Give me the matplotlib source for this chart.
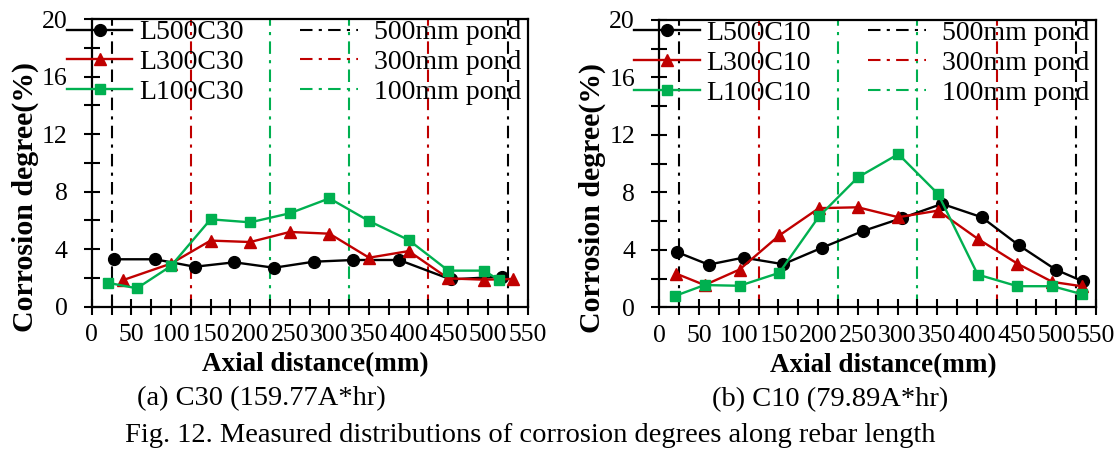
import matplotlib
matplotlib.use("Agg")
import matplotlib.pyplot as plt
from matplotlib.ticker import MultipleLocator

plt.rcParams['font.family'] = ['Liberation Serif', 'DejaVu Serif']

# Measured corrosion degrees (%) along the rebar, panel (a) C30
c30_l500_x = [28, 80, 130, 180, 230, 280, 330, 388, 453, 518]
c30_l500_y = [3.30, 3.30, 2.78, 3.09, 2.71, 3.13, 3.25, 3.25, 1.90, 2.09]
c30_l300_x = [40, 100, 150, 200, 250, 300, 350, 400, 450, 495, 532]
c30_l300_y = [1.86, 3.00, 4.60, 4.50, 5.20, 5.08, 3.41, 3.87, 1.97, 1.88, 1.93]
c30_l100_x = [20, 57, 100, 150, 200, 250, 300, 350, 400, 450, 495, 514]
c30_l100_y = [1.67, 1.28, 2.83, 6.08, 5.87, 6.50, 7.54, 5.96, 4.64, 2.51, 2.51, 1.86]

# panel (b) C10
c10_l500_x = [22, 62, 106, 156, 205, 256, 305, 356, 406, 453, 499, 533]
c10_l500_y = [3.85, 2.97, 3.46, 3.00, 4.15, 5.30, 6.20, 7.20, 6.27, 4.31, 2.63, 1.82]
c10_l300_x = [21, 57, 101, 151, 201, 250, 301, 351, 401, 451, 495, 532]
c10_l300_y = [2.35, 1.55, 2.63, 5.00, 6.90, 6.96, 6.27, 6.73, 4.77, 3.04, 1.77, 1.47]
c10_l100_x = [20, 57, 101, 151, 201, 250, 301, 351, 401, 451, 495, 532]
c10_l100_y = [0.80, 1.55, 1.50, 2.40, 6.32, 9.04, 10.66, 7.89, 2.28, 1.47, 1.47, 0.92]

# pond edges (mm)
pond_500 = [25, 525]
pond_300 = [125, 425]
pond_100 = [225, 325]

BLACK = '#000000'
RED = '#C00000'
GREEN = '#00B050'
dashdot = (0, (6, 3, 1.5, 3))

fig = plt.figure(figsize=(11.2, 4.49), dpi=100)
ax_a = fig.add_axes([0.0819, 0.3169, 0.3891, 0.6403])
ax_b = fig.add_axes([0.5887, 0.3155, 0.3899, 0.6403])


def draw_panel(ax, series, tag, caption):
    handles = []
    for (x, y, color, marker, ms), name in zip(series, ['L500', 'L300', 'L100']):
        h, = ax.plot(x, y, color=color, marker=marker, markersize=ms, lw=1.7,
                     label=name + tag)
        handles.append(h)
    pond_handles = []
    for xs, color, name in [(pond_500, BLACK, '500mm pond'),
                            (pond_300, RED, '300mm pond'),
                            (pond_100, GREEN, '100mm pond')]:
        for i, xv in enumerate(xs):
            h = ax.axvline(xv, color=color, lw=1.5, linestyle=dashdot,
                           label=name if i == 0 else None, zorder=1)
            if i == 0:
                pond_handles.append(h)

    ax.set_xlim(0, 550)
    ax.set_ylim(0, 20)
    ax.xaxis.set_major_locator(MultipleLocator(50))
    ax.xaxis.set_minor_locator(MultipleLocator(25))
    ax.yaxis.set_major_locator(MultipleLocator(4))
    ax.yaxis.set_minor_locator(MultipleLocator(2))
    ax.tick_params(which='both', direction='inout', length=11, width=1.5,
                   labelsize=18.5)
    ax.tick_params(axis='x', pad=7)
    ax.tick_params(axis='y', pad=12)
    for s in ax.spines.values():
        s.set_linewidth(1.6)

    ax.set_xlabel('Axial distance(mm)', fontsize=19.5, fontweight='bold')
    ax.xaxis.set_label_coords(0.512, -0.158)
    ax.set_ylabel('Corrosion degree(%)', fontsize=21.5, fontweight='bold')
    ax.yaxis.set_label_coords(-0.122, 0.38)

    leg1 = ax.legend(handles=handles, loc='upper left',
                     bbox_to_anchor=(-0.057, 0.998), frameon=False,
                     fontsize=20, handlelength=2.35, handletextpad=0.25,
                     labelspacing=0.16, borderpad=0, borderaxespad=0)
    ax.add_artist(leg1)
    ax.legend(handles=pond_handles, loc='upper left',
              bbox_to_anchor=(0.478, 0.998), frameon=False,
              fontsize=20, handlelength=2.1, handletextpad=0.55,
              labelspacing=0.16, borderpad=0, borderaxespad=0)

    ax.text(0.39, -0.32, caption, transform=ax.transAxes, fontsize=20.5,
            ha='center', va='center')


draw_panel(ax_a, [(c30_l500_x, c30_l500_y, BLACK, 'o', 8.5),
                  (c30_l300_x, c30_l300_y, RED, '^', 8.5),
                  (c30_l100_x, c30_l100_y, GREEN, 's', 7)],
           'C30', '(a) C30 (159.77A*hr)')
draw_panel(ax_b, [(c10_l500_x, c10_l500_y, BLACK, 'o', 8.5),
                  (c10_l300_x, c10_l300_y, RED, '^', 8.5),
                  (c10_l100_x, c10_l100_y, GREEN, 's', 7)],
           'C10', '(b) C10 (79.89A*hr)')

fig.text(0.473, 1 - 435 / 449,
         'Fig. 12. Measured distributions of corrosion degrees along rebar length',
         fontsize=20.5, ha='center', va='center')

fig.savefig('out.png', dpi=100)
